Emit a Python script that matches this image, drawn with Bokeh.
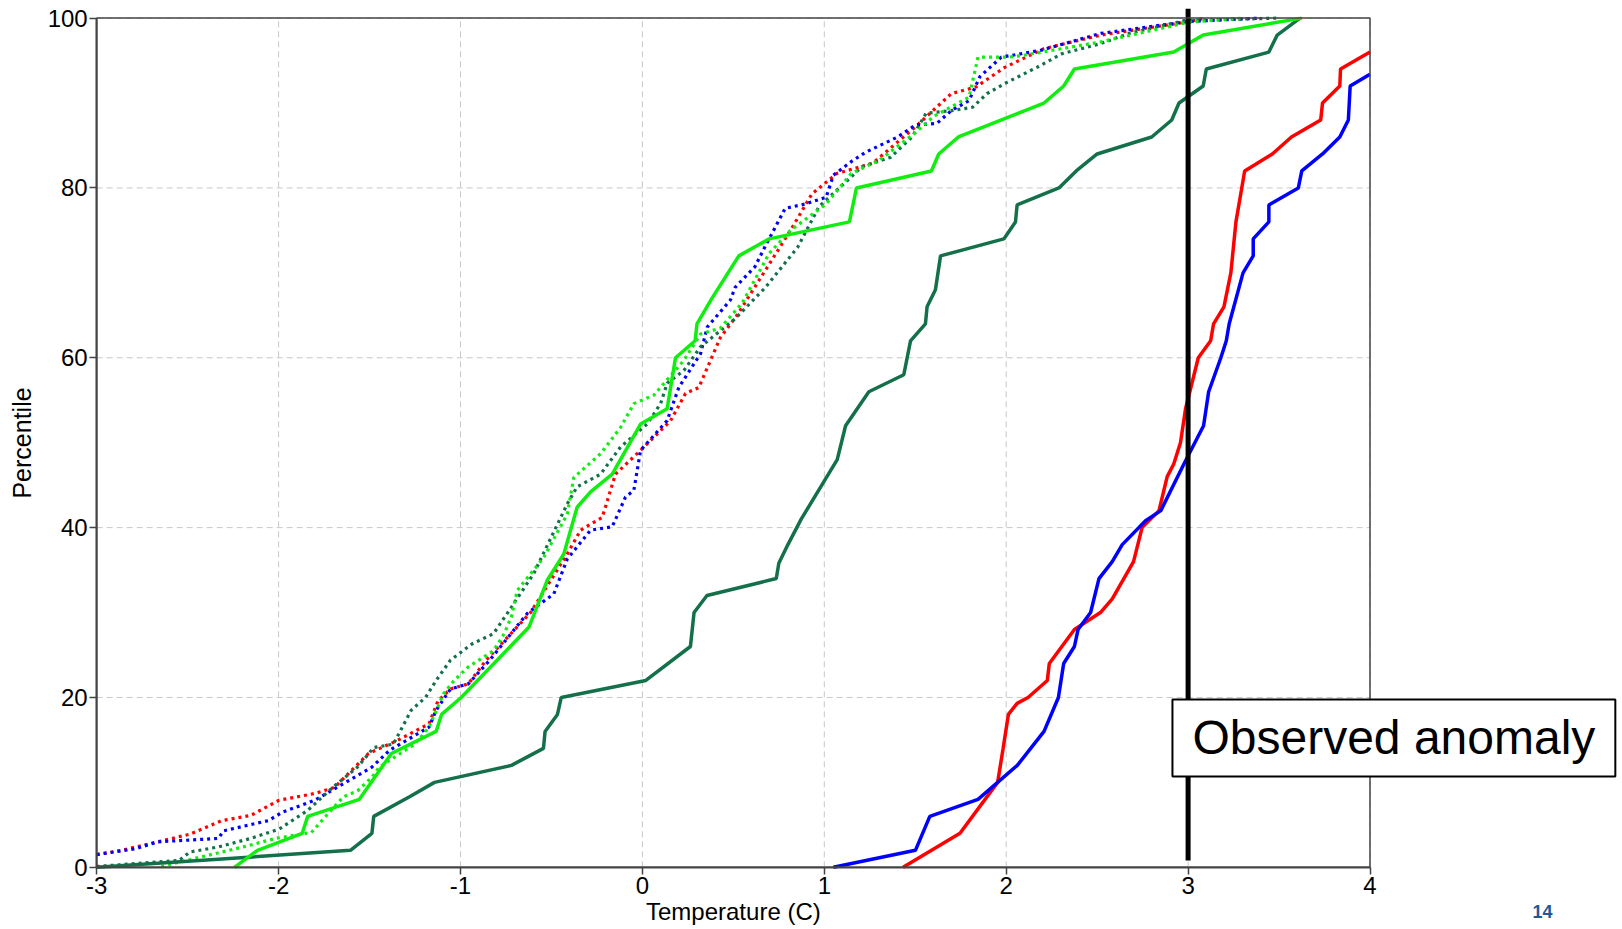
from bokeh.plotting import figure
from bokeh.models import Range1d, Label, FixedTicker, BoxAnnotation
from bokeh.embed import file_html
from bokeh.resources import INLINE

# ---------------- data ----------------
x_ticks = [-3, -2, -1, 0, 1, 2, 3, 4]
y_ticks = [0, 20, 40, 60, 80, 100]
obs_anomaly = 3.0
obs_y = [0.8, 101.1]

red_dot_x = [-3.0, -2.862, -2.704, -2.488, -2.312, -2.154, -1.997, -1.8, -1.693, -1.506, -1.35, -1.173, -1.124,
             -1.055, -0.957, -0.859, -0.741, -0.615, -0.413, -0.34, -0.221, -0.148, -0.01, 0.155, 0.237, 0.31,
             0.429, 0.52, 0.814, 0.932, 1.069, 1.266, 1.501, 1.698, 1.835, 1.992, 2.208, 2.52, 2.98, 3.1]
red_dot_y = [1.5, 2.0, 2.8, 3.9, 5.5, 6.1, 7.9, 8.7, 9.4, 13.4, 14.9, 16.9, 19.6, 21.0, 21.6, 24.4, 27.1, 30.0,
             36.9, 39.7, 41.2, 46.3, 49.1, 52.6, 55.8, 56.5, 62.4, 65.0, 75.0, 79.3, 81.7, 82.9, 87.2, 91.1, 91.9,
             94.2, 96.4, 98.0, 99.5, 100]

blue_dot_x = [-3.0, -2.783, -2.665, -2.331, -2.302, -2.056, -1.978, -1.8, -1.487, -1.389, -1.173, -1.134, -1.055,
              -0.957, -0.839, -0.633, -0.487, -0.413, -0.285, -0.166, -0.093, -0.047, -0.01, 0.136, 0.2, 0.32,
              0.356, 0.484, 0.51, 0.618, 0.677, 0.785, 0.893, 1.01, 1.05, 1.148, 1.227, 1.403, 1.501, 1.619,
              1.698, 1.796, 1.855, 1.973, 2.189, 2.52, 3.0, 3.4]
blue_dot_y = [1.5, 2.2, 3.0, 3.4, 4.3, 5.5, 6.5, 7.9, 11.8, 13.8, 16.5, 18.5, 21.0, 21.6, 24.4, 29.9, 32.2, 36.3,
              39.7, 40.1, 43.6, 44.4, 49.1, 52.6, 56.5, 60.5, 63.6, 66.8, 68.3, 70.7, 73.2, 77.6, 78.1, 78.9,
              81.5, 83.1, 84.2, 86.0, 87.4, 87.6, 89.1, 90.3, 93.1, 95.4, 96.2, 98.2, 99.6, 100]

dgreen_dot_x = [-3.0, -2.547, -2.488, -2.331, -2.154, -1.997, -1.84, -1.703, -1.566, -1.477, -1.369, -1.271,
                -1.192, -1.134, -1.055, -0.937, -0.819, -0.743, -0.597, -0.413, -0.359, -0.23, -0.12, 0.026, 0.1,
                0.136, 0.228, 0.32, 0.429, 0.51, 0.677, 0.853, 0.971, 1.148, 1.207, 1.364, 1.482, 1.56, 1.698,
                1.815, 1.894, 1.992, 2.169, 2.306, 2.52, 2.675, 2.98, 3.5]
dgreen_dot_y = [0.1, 0.8, 1.8, 2.4, 3.4, 4.5, 6.7, 9.4, 11.8, 14.1, 14.5, 18.5, 20.0, 22.0, 24.4, 26.3, 27.5,
                29.9, 34.6, 42.8, 44.8, 46.3, 49.5, 52.2, 54.6, 57.0, 58.5, 61.3, 63.2, 64.6, 68.3, 73.0, 77.8,
                81.3, 82.5, 83.6, 86.0, 88.8, 89.1, 89.5, 91.1, 92.3, 94.2, 95.8, 97.0, 98.2, 99.7, 100]

lime_dot_x = [-2.645, -2.43, -2.194, -2.017, -1.82, -1.762, -1.712, -1.644, -1.566, -1.487, -1.447, -1.36,
              -1.251, -1.173, -1.094, -1.035, -0.957, -0.819, -0.76, -0.72, -0.688, -0.542, -0.413, -0.377, -0.23,
              -0.12, -0.047, 0.063, 0.228, 0.32, 0.429, 0.55, 0.697, 0.814, 1.01, 1.148, 1.305, 1.501, 1.6,
              1.796, 1.845, 2.015, 2.09, 2.52, 3.0, 3.3]
lime_dot_y = [0.1, 1.2, 2.4, 3.4, 4.1, 5.5, 6.7, 8.3, 9.0, 10.6, 11.8, 13.0, 14.5, 16.5, 20.4, 22.0, 23.6, 25.5,
              27.5, 29.5, 32.6, 36.5, 41.6, 45.9, 48.7, 51.8, 54.6, 55.6, 59.7, 62.8, 63.5, 66.5, 72.3, 75.0,
              78.1, 81.7, 83.3, 86.5, 88.4, 90.7, 95.4, 95.4, 95.6, 97.2, 99.5, 100]

lime_x = [-2.243, -2.116, -1.87, -1.84, -1.556, -1.38, -1.134, -1.104, -0.996, -0.623, -0.523, -0.432, -0.359,
          -0.285, -0.166, -0.01, 0.136, 0.182, 0.29, 0.30, 0.382, 0.53, 0.697, 1.138, 1.177, 1.589, 1.629, 1.737,
          2.208, 2.316, 2.375, 2.921, 3.083, 3.625]
lime_y = [0, 2, 4, 6, 8, 13.4, 16, 18, 20, 28.3, 33.8, 36.9, 42.4, 44.2, 46.3, 52.2, 54, 60, 62, 64, 67, 72, 74,
          76, 80, 82, 84, 86, 90, 92, 94, 96, 98, 100]

dgreen_x = [-3.0, -1.605, -1.487, -1.477, -1.28, -1.143, -0.72, -0.544, -0.535, -0.467, -0.446, 0.019, 0.264,
            0.284, 0.355, 0.736, 0.75, 0.80, 0.873, 1.071, 1.117, 1.245, 1.437, 1.474, 1.556, 1.565, 1.611,
            1.639, 1.987, 2.051, 2.06, 2.29, 2.385, 2.50, 2.80, 2.91, 2.95, 3.083, 3.10, 3.444, 3.49, 3.615]
dgreen_y = [0, 2, 4, 6, 8.3, 10, 12, 14, 16, 18, 20, 22, 26, 30, 32, 34, 35.8, 38, 41, 48, 52, 56, 58, 62, 64, 66,
            68, 72, 74, 76, 78, 80, 82, 84, 86, 88, 90, 92, 94, 96, 98, 100]

red_x = [1.433, 1.746, 1.953, 1.983, 2.012, 2.06, 2.12, 2.226, 2.237, 2.375, 2.518, 2.583, 2.70, 2.747, 2.84, 2.885,
         2.921, 2.958, 2.986, 3.056, 3.124, 3.14, 3.197, 3.235, 3.263, 3.311, 3.463, 3.568, 3.729, 3.739, 3.834,
         3.838, 4.0]
red_y = [0, 4, 10, 14, 18, 19.3, 20, 22, 24, 28, 30, 31.6, 36, 40, 42, 46, 47.5, 50, 54, 60, 62, 64, 66, 70, 76,
         82, 84, 86, 88, 90, 92, 94, 96]

blue_x = [1.05, 1.501, 1.58, 1.845, 2.061, 2.208, 2.287, 2.316, 2.375, 2.395, 2.464, 2.51, 2.583, 2.638, 2.766,
          2.85, 2.977, 3.085, 3.113, 3.18, 3.21, 3.226, 3.302, 3.358, 3.358, 3.444, 3.444, 3.606, 3.625, 3.739,
          3.834, 3.881, 3.891, 4.0]
blue_y = [0, 2, 6, 8, 12, 16, 20, 24, 26, 28, 30, 34, 36, 38, 40.8, 42, 47.5, 52, 56, 60, 62, 64, 70, 72, 74,
          76, 78, 80, 82, 84, 86, 88, 92, 93.4]

x_title = "Temperature (C)"
y_title = "Percentile"
annotation_text = "Observed anomaly"
page_number = "14"

# ---------------- styles / layout ----------------
RED = "#ff0000"
BLUE = "#0000ff"
LIME = "#10ee10"
DGREEN = "#13704a"
AXIS = "#444444"
FONT = "Liberation Sans"

W, H = 1620, 927
LEFT_PX = 96.2       # pixel of x = -3
PX_PER_X = 181.9
TOP_PX = 17.6        # pixel of y = 100
PX_PER_Y = 8.492
x_start = -3 - LEFT_PX / PX_PER_X
x_end = -3 + (W - LEFT_PX) / PX_PER_X
y_end = 100 + TOP_PX / PX_PER_Y
y_start = 100 - (H - TOP_PX) / PX_PER_Y

p = figure(width=W, height=H, output_backend="svg", toolbar_location=None,
           x_range=Range1d(x_start, x_end), y_range=Range1d(y_start, y_end),
           min_border_left=0, min_border_right=0, min_border_top=0, min_border_bottom=0)
p.background_fill_color = "white"
p.border_fill_color = "white"
p.outline_line_color = None
p.grid.visible = False

xmin, xmax = x_ticks[0], x_ticks[-1]
ymin, ymax = y_ticks[0], y_ticks[-1]

# dashed grid, limited to the data box
p.segment(x0=x_ticks, y0=[ymin] * len(x_ticks), x1=x_ticks, y1=[ymax] * len(x_ticks),
          line_color="#c8c8c8", line_dash="6 4", line_width=1, level="underlay")
p.segment(x0=[xmin] * len(y_ticks), y0=y_ticks, x1=[xmax] * len(y_ticks), y1=y_ticks,
          line_color="#c8c8c8", line_dash="6 4", line_width=1, level="underlay")

# axes, pinned to the data box corners
p.xaxis.fixed_location = ymin
p.yaxis.fixed_location = xmin
p.xaxis.bounds = (xmin, xmax)
p.yaxis.bounds = (ymin, ymax)
p.xaxis.ticker = FixedTicker(ticks=x_ticks)
p.yaxis.ticker = FixedTicker(ticks=y_ticks)
p.xaxis.major_label_overrides = {t: str(t) for t in x_ticks}
p.yaxis.major_label_overrides = {t: str(t) for t in y_ticks}
for ax in (p.xaxis[0], p.yaxis[0]):
    ax.axis_line_color = AXIS
    ax.axis_line_width = 2
    ax.major_tick_line_color = AXIS
    ax.major_tick_line_width = 1.5
    ax.major_tick_in = 0
    ax.major_tick_out = 7
    ax.minor_tick_line_color = None
    ax.major_label_text_font = FONT
    ax.major_label_text_font_size = "24px"
    ax.major_label_text_color = "black"
p.xaxis.major_label_standoff = 3
p.yaxis.major_label_standoff = 2
p.yaxis.axis_label = y_title
p.yaxis.axis_label_text_font = FONT
p.yaxis.axis_label_text_font_size = "25px"
p.yaxis.axis_label_text_font_style = "normal"
p.yaxis.axis_label_text_color = "black"
p.yaxis.axis_label_standoff = 8

# dotted series
dash = "3 4"
p.line(red_dot_x, red_dot_y, line_color=RED, line_width=3.2, line_dash=dash)
p.line(blue_dot_x, blue_dot_y, line_color=BLUE, line_width=3.2, line_dash=dash)
p.line(dgreen_dot_x, dgreen_dot_y, line_color=DGREEN, line_width=3.2, line_dash=dash)
p.line(lime_dot_x, lime_dot_y, line_color=LIME, line_width=3.2, line_dash=dash)

# solid series
p.line(dgreen_x, dgreen_y, line_color=DGREEN, line_width=3.5)
p.line(lime_x, lime_y, line_color=LIME, line_width=3.5)
p.line(red_x, red_y, line_color=RED, line_width=3.5)
p.line(blue_x, blue_y, line_color=BLUE, line_width=3.5)

# observed anomaly
p.line([obs_anomaly, obs_anomaly], obs_y, line_color="black", line_width=5)

# box around the data area
p.add_layout(BoxAnnotation(left=xmin, right=xmax, bottom=ymin, top=ymax, fill_alpha=0,
                           line_color=AXIS, line_width=1.5, line_alpha=1))

p.add_layout(Label(x=2.914, y=15.23, text=annotation_text, text_font=FONT, text_font_size="48px",
                   text_color="black", text_align="left", text_baseline="middle",
                   background_fill_color="white", border_line_color="black", border_line_width=2,
                   padding=dict(left=20, right=20, top=12, bottom=12)))

# x axis title
p.add_layout(Label(x=0.5, y=-5.2, text=x_title, text_font=FONT, text_font_size="24px",
                   text_color="black", text_align="center", text_baseline="middle"))

# slide page number
p.add_layout(Label(x=4.893, y=-6.0, text=page_number, text_font=FONT, text_font_size="18px",
                   text_font_style="bold", text_color="#1f5a96", text_align="left", text_baseline="bottom"))

open("out.html", "w").write(file_html(p, INLINE))
